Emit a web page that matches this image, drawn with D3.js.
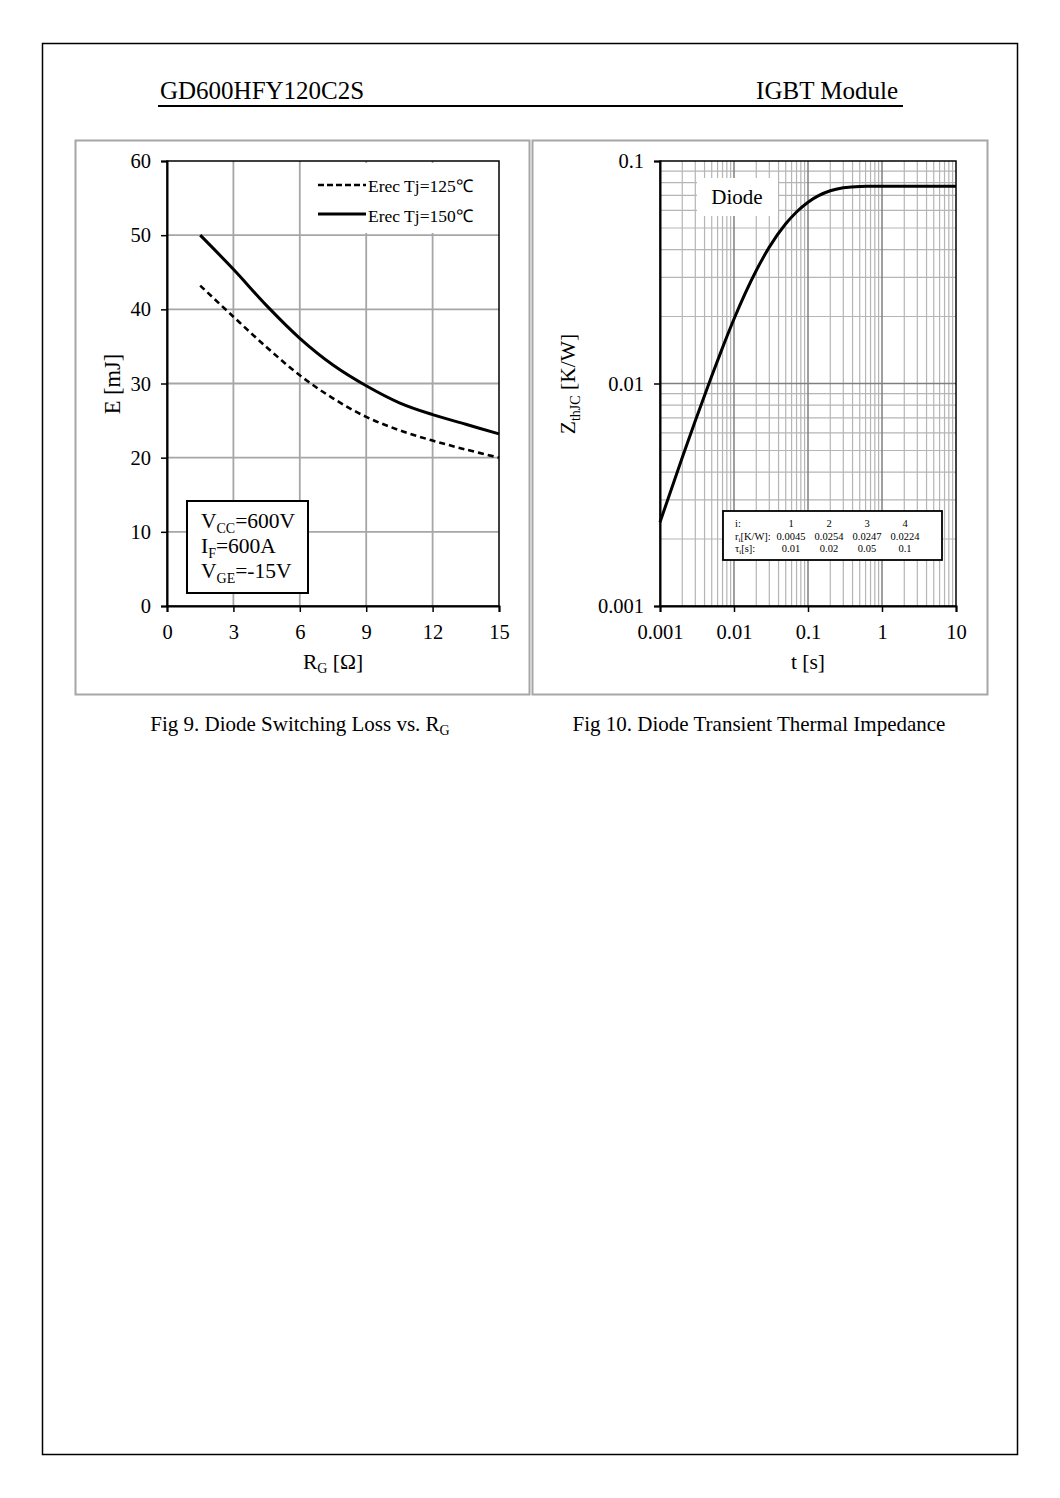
<!DOCTYPE html>
<html><head><meta charset="utf-8">
<script src="https://cdn.jsdelivr.net/npm/d3@7"></script>
<style>
body{margin:0;background:#fff;}
svg{display:block;font-family:"Liberation Serif","Times New Roman",serif;}
</style></head>
<body>
<script>
// ---------- data ----------
const rgValues = [1.5, 3, 4.5, 6, 7.5, 9, 10.5, 12, 13.5, 15];
const erec125 = [43.2, 39.0, 34.9, 31.1, 28.0, 25.5, 23.7, 22.3, 21.1, 20.0];
const erec150 = [50.0, 45.4, 40.5, 36.1, 32.5, 29.7, 27.4, 25.8, 24.5, 23.2];
const lossXTicks = [0, 3, 6, 9, 12, 15];
const lossYTicks = [0, 10, 20, 30, 40, 50, 60];
const seriesNames = ["Erec Tj=125\u2103", "Erec Tj=150\u2103"];

const timeValues = [0.001, 0.002, 0.003, 0.005, 0.007, 0.01, 0.02, 0.03, 0.05, 0.07, 0.1, 0.2, 0.3, 0.5, 1, 10];
const zthValues  = [0.00238, 0.00465, 0.0068, 0.0108, 0.0145, 0.0195, 0.0322, 0.041, 0.0522, 0.059, 0.0653, 0.0735, 0.0758, 0.0769, 0.077, 0.077];
const tTicks = [0.001, 0.01, 0.1, 1, 10];
const zTicks = [0.001, 0.01, 0.1];
const tableIndex = ["1", "2", "3", "4"];
const tableR = ["0.0045", "0.0254", "0.0247", "0.0224"];
const tableTau = ["0.01", "0.02", "0.05", "0.1"];

// ---------- page ----------
const W = 1060, H = 1498;
const svg = d3.select("body").append("svg").attr("width", W).attr("height", H);
svg.append("rect").attr("x", 42.5).attr("y", 43.5).attr("width", 975).attr("height", 1411)
  .attr("fill", "none").attr("stroke", "#000").attr("stroke-width", 1.5);
svg.append("text").attr("x", 160).attr("y", 99).attr("font-size", 25).text("GD600HFY120C2S");
svg.append("text").attr("x", 898).attr("y", 99).attr("font-size", 25).attr("text-anchor", "end").text("IGBT Module");
svg.append("line").attr("x1", 158).attr("x2", 903).attr("y1", 106).attr("y2", 106).attr("stroke", "#000").attr("stroke-width", 2);

// panel frames
svg.append("rect").attr("x", 75.5).attr("y", 140.5).attr("width", 454).attr("height", 554)
  .attr("fill", "none").attr("stroke", "#a6a6a6").attr("stroke-width", 2);
svg.append("rect").attr("x", 532.5).attr("y", 140.5).attr("width", 455).attr("height", 554)
  .attr("fill", "none").attr("stroke", "#a6a6a6").attr("stroke-width", 2);

// captions
const cap1 = svg.append("text").attr("x", 300).attr("y", 731).attr("font-size", 21).attr("text-anchor", "middle");
cap1.append("tspan").text("Fig 9. Diode Switching Loss vs. R");
cap1.append("tspan").attr("font-size", 14).attr("dy", 4).text("G");
svg.append("text").attr("x", 759).attr("y", 731).attr("font-size", 21).attr("text-anchor", "middle")
  .text("Fig 10. Diode Transient Thermal Impedance");

// ---------- left chart ----------
{
  const x = d3.scaleLinear().domain([0, 15]).range([167, 499]);
  const y = d3.scaleLinear().domain([0, 60]).range([606, 161]);
  const g = svg.append("g");
  g.selectAll(".vg").data(lossXTicks.slice(1, -1)).join("line")
    .attr("x1", d => x(d)).attr("x2", d => x(d)).attr("y1", y(0)).attr("y2", y(60))
    .attr("stroke", "#a6a6a6").attr("stroke-width", 1.8);
  g.selectAll(".hg").data(lossYTicks.slice(1, -1)).join("line")
    .attr("x1", x(0)).attr("x2", x(15)).attr("y1", d => y(d)).attr("y2", d => y(d))
    .attr("stroke", "#a6a6a6").attr("stroke-width", 1.8);
  g.append("rect").attr("x", 306).attr("y", 163).attr("width", 191).attr("height", 70).attr("fill", "#fff");
  g.append("rect").attr("x", x(0)).attr("y", y(60)).attr("width", x(15) - x(0)).attr("height", y(0) - y(60))
    .attr("fill", "none").attr("stroke", "#000").attr("stroke-width", 1.5);
  const xa = g.append("g").attr("transform", `translate(0,${y(0)})`)
    .call(d3.axisBottom(x).tickValues(lossXTicks).tickSize(6).tickPadding(10));
  const ya = g.append("g").attr("transform", `translate(${x(0)},0)`)
    .call(d3.axisLeft(y).tickValues(lossYTicks).tickSize(6).tickPadding(10));
  [xa, ya].forEach(a => {
    a.attr("font-family", null);
    a.select(".domain").attr("stroke-width", 2);
    a.selectAll(".tick line").attr("stroke-width", 1.5);
    a.selectAll("text").attr("font-size", 20.5).attr("fill", "#000");
  });
  xa.selectAll("text").attr("dy", "0.85em");
  const line = d3.line().x((d, i) => x(rgValues[i])).y(d => y(d)).curve(d3.curveCatmullRom);
  g.append("path").attr("d", line(erec150)).attr("fill", "none").attr("stroke", "#000").attr("stroke-width", 3);
  g.append("path").attr("d", line(erec125)).attr("fill", "none").attr("stroke", "#000").attr("stroke-width", 2.6)
    .attr("stroke-dasharray", "6,4");
  g.append("line").attr("x1", 318).attr("x2", 366).attr("y1", 185).attr("y2", 185)
    .attr("stroke", "#000").attr("stroke-width", 2.6).attr("stroke-dasharray", "6,3");
  g.append("line").attr("x1", 318).attr("x2", 366).attr("y1", 214).attr("y2", 214)
    .attr("stroke", "#000").attr("stroke-width", 3);
  g.append("text").attr("x", 368).attr("y", 192).attr("font-size", 17.5).text(seriesNames[0]);
  g.append("text").attr("x", 368).attr("y", 222).attr("font-size", 17.5).text(seriesNames[1]);
  g.append("rect").attr("x", 187).attr("y", 501).attr("width", 121).attr("height", 92)
    .attr("fill", "#fff").attr("stroke", "#000").attr("stroke-width", 2);
  const cond = [["V", "CC", "=600V", 528], ["I", "F", "=600A", 553], ["V", "GE", "=-15V", 578]];
  cond.forEach(c => {
    const t = g.append("text").attr("x", 201).attr("y", c[3]).attr("font-size", 21.5);
    t.append("tspan").text(c[0]);
    t.append("tspan").attr("font-size", 14).attr("dy", 5).text(c[1]);
    t.append("tspan").attr("dy", -5).text(c[2]);
  });
  g.append("text").attr("transform", `translate(120,384) rotate(-90)`).attr("text-anchor", "middle")
    .attr("font-size", 22.5).text("E [mJ]");
  const xt = g.append("text").attr("x", 333).attr("y", 669).attr("text-anchor", "middle").attr("font-size", 21.5);
  xt.append("tspan").text("R");
  xt.append("tspan").attr("font-size", 14).attr("dy", 4).text("G");
  xt.append("tspan").attr("dy", -4).text(" [\u03A9]");
}

// ---------- right chart ----------
{
  const x = d3.scaleLog().domain([0.001, 10]).range([660, 956]);
  const y = d3.scaleLog().domain([0.001, 0.1]).range([606, 161]);
  const g = svg.append("g");
  const minorX = [], minorY = [];
  for (let p = -3; p < 1; p++) for (let k = 2; k <= 9; k++) minorX.push(k * Math.pow(10, p));
  for (let p = -3; p < -1; p++) for (let k = 2; k <= 9; k++) minorY.push(k * Math.pow(10, p));
  g.selectAll(".mx").data(minorX).join("line")
    .attr("x1", d => x(d)).attr("x2", d => x(d)).attr("y1", y(0.001)).attr("y2", y(0.1))
    .attr("stroke", "#b5b5b5").attr("stroke-width", 1.2);
  g.selectAll(".my").data(minorY).join("line")
    .attr("x1", x(0.001)).attr("x2", x(10)).attr("y1", d => y(d)).attr("y2", d => y(d))
    .attr("stroke", "#b5b5b5").attr("stroke-width", 1.2);
  g.selectAll(".Mx").data(tTicks.slice(1, -1)).join("line")
    .attr("x1", d => x(d)).attr("x2", d => x(d)).attr("y1", y(0.001)).attr("y2", y(0.1))
    .attr("stroke", "#7f7f7f").attr("stroke-width", 1.5);
  g.selectAll(".My").data(zTicks.slice(1, -1)).join("line")
    .attr("x1", x(0.001)).attr("x2", x(10)).attr("y1", d => y(d)).attr("y2", d => y(d))
    .attr("stroke", "#7f7f7f").attr("stroke-width", 1.5);
  g.append("rect").attr("x", x(0.001)).attr("y", y(0.1)).attr("width", x(10) - x(0.001)).attr("height", y(0.001) - y(0.1))
    .attr("fill", "none").attr("stroke", "#000").attr("stroke-width", 1.5);
  const fmt = d => String(d);
  const xa = g.append("g").attr("transform", `translate(0,${y(0.001)})`)
    .call(d3.axisBottom(x).tickValues(tTicks).tickFormat(fmt).tickSize(6).tickPadding(10));
  const ya = g.append("g").attr("transform", `translate(${x(0.001)},0)`)
    .call(d3.axisLeft(y).tickValues(zTicks).tickFormat(fmt).tickSize(6).tickPadding(10));
  [xa, ya].forEach(a => {
    a.attr("font-family", null);
    a.select(".domain").attr("stroke-width", 2);
    a.selectAll(".tick line").attr("stroke-width", 1.5);
    a.selectAll("text").attr("font-size", 20.5).attr("fill", "#000");
  });
  xa.selectAll("text").attr("dy", "0.85em");
  g.append("rect").attr("x", 697).attr("y", 178).attr("width", 81).attr("height", 38).attr("fill", "#fff");
  g.append("text").attr("x", 737).attr("y", 204).attr("text-anchor", "middle").attr("font-size", 21).text("Diode");
  const line = d3.line().x((d, i) => x(timeValues[i])).y(d => y(d)).curve(d3.curveMonotoneX);
  g.append("path").attr("d", line(zthValues)).attr("fill", "none").attr("stroke", "#000").attr("stroke-width", 3);
  g.append("rect").attr("x", 723).attr("y", 511).attr("width", 219).attr("height", 49)
    .attr("fill", "#fff").attr("stroke", "#000").attr("stroke-width", 1.8);
  const colX = [791, 829, 867, 905];
  const rows = [["i:", tableIndex, 527], ["r", tableR, 540], ["\u03C4", tableTau, 552]];
  rows.forEach((r, ri) => {
    const t = g.append("text").attr("x", 735).attr("y", r[2]).attr("font-size", 10.5);
    if (ri === 0) t.text("i:");
    else {
      t.append("tspan").text(r[0]);
      t.append("tspan").attr("font-size", 7).attr("dy", 2).text("i");
      t.append("tspan").attr("dy", -2).text(ri === 1 ? "[K/W]:" : "[s]:");
    }
    r[1].forEach((v, i) => {
      g.append("text").attr("x", colX[i]).attr("y", r[2]).attr("font-size", 10.5).attr("text-anchor", "middle").text(v);
    });
  });
  const yt = g.append("text").attr("transform", `translate(575,384) rotate(-90)`).attr("text-anchor", "middle").attr("font-size", 21.5);
  yt.append("tspan").text("Z");
  yt.append("tspan").attr("font-size", 14).attr("dy", 5).text("thJC");
  yt.append("tspan").attr("dy", -5).text(" [K/W]");
  g.append("text").attr("x", 808).attr("y", 669).attr("text-anchor", "middle").attr("font-size", 21.5).text("t [s]");
}
</script>
</body></html>
